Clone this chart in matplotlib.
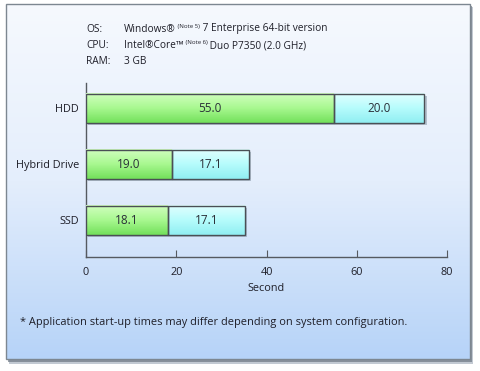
import numpy as np
import matplotlib
matplotlib.use('Agg')
import matplotlib.pyplot as plt
from matplotlib.patches import Rectangle
from matplotlib.colors import LinearSegmentedColormap

plt.rcParams['font.family'] = ['Open Sans', 'DejaVu Sans']

drives = ['SSD', 'Hybrid Drive', 'HDD']
part_a = [18.1, 19.0, 55.0]
part_b = [17.1, 17.1, 20.0]
x_ticks = [0, 20, 40, 60, 80]
x_label = 'Second'
spec_rows = [
    ('OS:', [('Windows®', 7.3, 0), (' (Note 5)', 4.3, 2.6), (' 7 Enterprise 64-bit version', 7.3, 0)]),
    ('CPU:', [('Intel®Core™', 7.3, 0), (' (Note 6)', 4.3, 2.6), (' Duo P7350 (2.0 GHz)', 7.3, 0)]),
    ('RAM:', [('3 GB', 7.3, 0)]),
]
footnote = '* Application start-up times may differ depending on system configuration.'

text_col = '#1e1e28'

fig = plt.figure(figsize=(4.8, 3.71), dpi=100)
fig.patch.set_facecolor('white')

# panel with gradient and shadow
bg = fig.add_axes([0, 0, 1, 1])
bg.set_xlim(0, 480)
bg.set_ylim(371, 0)
bg.axis('off')
bg.add_patch(Rectangle((9, 7), 464, 357, facecolor='#9aa6b4', edgecolor='none', alpha=0.6))
bg.add_patch(Rectangle((8, 6), 464, 356, facecolor='#6e7884', edgecolor='none', alpha=0.7))
panel_cmap = LinearSegmentedColormap.from_list('panel', ['#f6f9fe', '#e4eefc', '#b6d3f8'])
grad = np.linspace(0, 1, 256).reshape(-1, 1)
bg.imshow(grad, cmap=panel_cmap, extent=(6, 470, 359, 4), aspect='auto', zorder=2)
bg.add_patch(Rectangle((6, 4), 464, 355, facecolor='none', edgecolor='#7d8791', lw=1.0, zorder=3))
bg.set_xlim(0, 480)
bg.set_ylim(371, 0)

# spec lines
renderer = fig.canvas.get_renderer()
for i, (key, runs) in enumerate(spec_rows):
    yy = 29 + i * 16.5
    bg.text(86, yy, key, fontsize=7.3, color=text_col, va='center', ha='left', zorder=5)
    x = 124
    for s, size, dy in runs:
        t = bg.text(x, yy - dy, s, fontsize=size, color=text_col, va='center', ha='left', zorder=5)
        bb = t.get_window_extent(renderer=renderer)
        x += bb.width

bg.text(20, 322, footnote, fontsize=7.9, color=text_col, va='center', ha='left', zorder=5)

# main bars
ax = fig.add_axes([86 / 480, (371 - 257) / 371, (447 - 86) / 480, (257 - 83) / 371])
ax.set_facecolor('none')
ax.patch.set_alpha(0)
ypos = np.arange(len(drives))
h = 0.52

green = LinearSegmentedColormap.from_list('g', ['#d2ffc0', '#a8f890', '#72e05a'])
cyan = LinearSegmentedColormap.from_list('c', ['#e2ffff', '#b6fcfc', '#90eef2'])

bars_a = ax.barh(ypos, part_a, height=h, color='none', edgecolor='#4a4f55', lw=1.0, zorder=4)
bars_b = ax.barh(ypos, part_b, left=part_a, height=h, color='none', edgecolor='#4a4f55', lw=1.0, zorder=4)

for bars, cm in ((bars_a, green), (bars_b, cyan)):
    for b in bars:
        x0, y0 = b.get_x(), b.get_y()
        w, hh = b.get_width(), b.get_height()
        # soft shadow
        ax.add_patch(Rectangle((x0 + 0.5, y0 - 0.04), w, hh, facecolor='#8090a0', edgecolor='none',
                               alpha=0.5, zorder=2))
        ax.imshow(grad, cmap=cm, extent=(x0, x0 + w, y0, y0 + hh), aspect='auto',
                  origin='upper', zorder=3)
        ax.text(x0 + w / 2, y0 + hh / 2, f'{w:.1f}', ha='center', va='center',
                fontsize=8.5, color='#2a2f38', zorder=5)

ax.set_xlim(0, 80)
ax.set_ylim(-0.66, 2.45)
ax.set_xticks(x_ticks)
ax.set_xticklabels([str(v) for v in x_ticks], fontsize=7.8, color=text_col)
ax.set_yticks(ypos)
ax.set_yticklabels(drives, fontsize=7.8, color=text_col)
ax.tick_params(axis='x', direction='in', length=5, color='#555a60', pad=7)
ax.tick_params(axis='y', length=0, pad=5)
ax.set_xlabel(x_label, fontsize=7.8, color=text_col, labelpad=4)
for s in ('top', 'right'):
    ax.spines[s].set_visible(False)
for s in ('left', 'bottom'):
    ax.spines[s].set_color('#555a60')
    ax.spines[s].set_linewidth(1.0)

fig.savefig('out.png', dpi=100)
